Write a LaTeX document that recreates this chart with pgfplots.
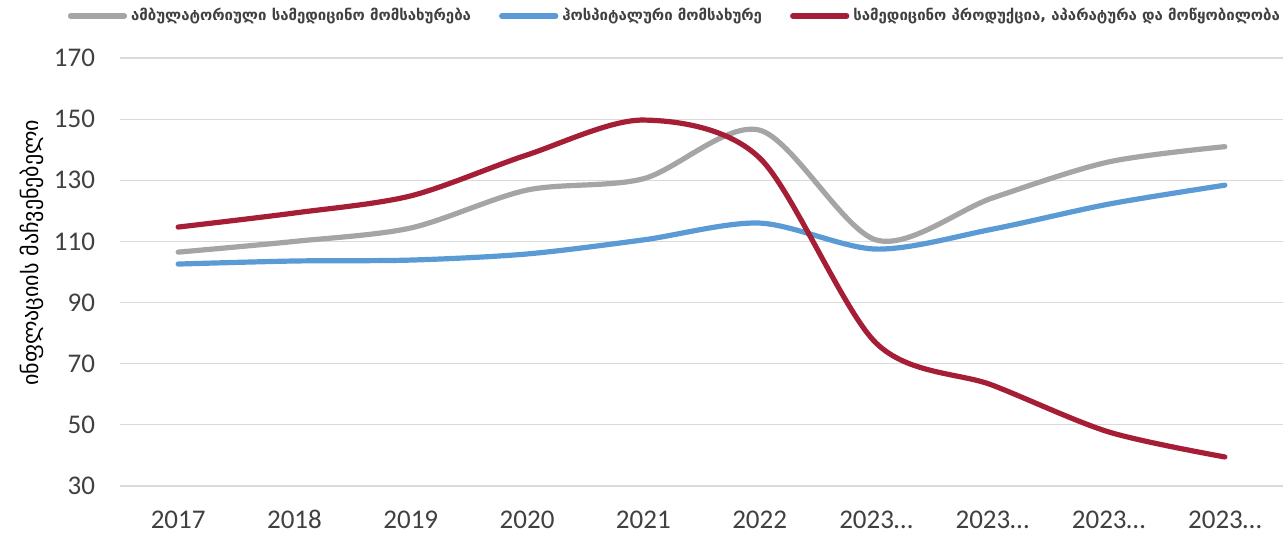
\documentclass[border=0pt]{standalone}
\usepackage{pgfplots}
\pgfplotsset{compat=1.18}
\usepackage{fontspec}
\setmainfont{Carlito}
\newfontfamily\geo{DejaVu Sans}
\definecolor{cgray}{HTML}{A5A5A5}
\definecolor{cblue}{HTML}{5B9BD5}
\definecolor{cred}{HTML}{A51E36}
\definecolor{gridc}{HTML}{D9D9D9}
\definecolor{txt}{HTML}{404040}
\begin{document}
\begin{tikzpicture}
\useasboundingbox (-60pt,-25.5pt) rectangle (581.5pt,243pt);
\begin{axis}[
    at={(0,0)}, anchor=south west,
    scale only axis,
    width=581.5pt, height=214pt,
    xmin=-0.5, xmax=9.5,
    ymin=30, ymax=170,
    ytick={30,50,...,170},
    xtick={0,...,9},
    xticklabels={2017,2018,2019,2020,2021,2022,2023…,2023…,2023…,2023…},
    axis line style={draw=none},
    major tick length=0pt,
    ymajorgrids,
    grid style={gridc, line width=0.6pt},
    ticklabel style={font=\fontsize{13.5}{15}\selectfont, text=txt},
    /pgf/number format/assume math mode=true,
    yticklabel style={xshift=-9pt},
    xticklabel style={anchor=base, yshift=-21pt},
    ylabel={\geo\fontsize{11}{13}\selectfont ინფლაციის მაჩვენებელი},
    ylabel style={text=txt},
    every axis y label/.style={at={(axis description cs:-0.076,0.545)}, rotate=90, anchor=center},
    legend columns=3,
    legend style={draw=none, fill=none, at={(axis description cs:0.478,1.0)}, anchor=center, yshift=21pt,
        font=\geo\bfseries\fontsize{7.5}{10}\selectfont, text=txt,
        /tikz/every even column/.append style={column sep=12pt}},
    legend image code/.code={\draw[#1, line width=2.6pt, line cap=round] (0pt,0pt) -- (27pt,0pt);},
    every axis plot/.append style={line width=2.6pt, smooth, no marks, line cap=round},
]
\addplot[cgray] coordinates {(0,106.5) (1,110) (2,114.4) (3,126.8) (4,130.5) (5,146.4) (6,110.5) (7,124.2) (8,136) (9,141)};
\addlegendentry{ამბულატორიული სამედიცინო  მომსახურება}
\addplot[cblue] coordinates {(0,102.6) (1,103.6) (2,103.9) (3,105.9) (4,110.5) (5,116) (6,107.5) (7,114) (8,122.2) (9,128.4)};
\addlegendentry{ჰოსპიტალური მომსახურე}
\addplot[cred] coordinates {(0,114.7) (1,119.3) (2,124.9) (3,138.3) (4,149.7) (5,137.3) (6,76.8) (7,63) (8,47.7) (9,39.5)};
\addlegendentry{სამედიცინო პროდუქცია, აპარატურა და მოწყობილობა}
\end{axis}
\end{tikzpicture}
\end{document}
